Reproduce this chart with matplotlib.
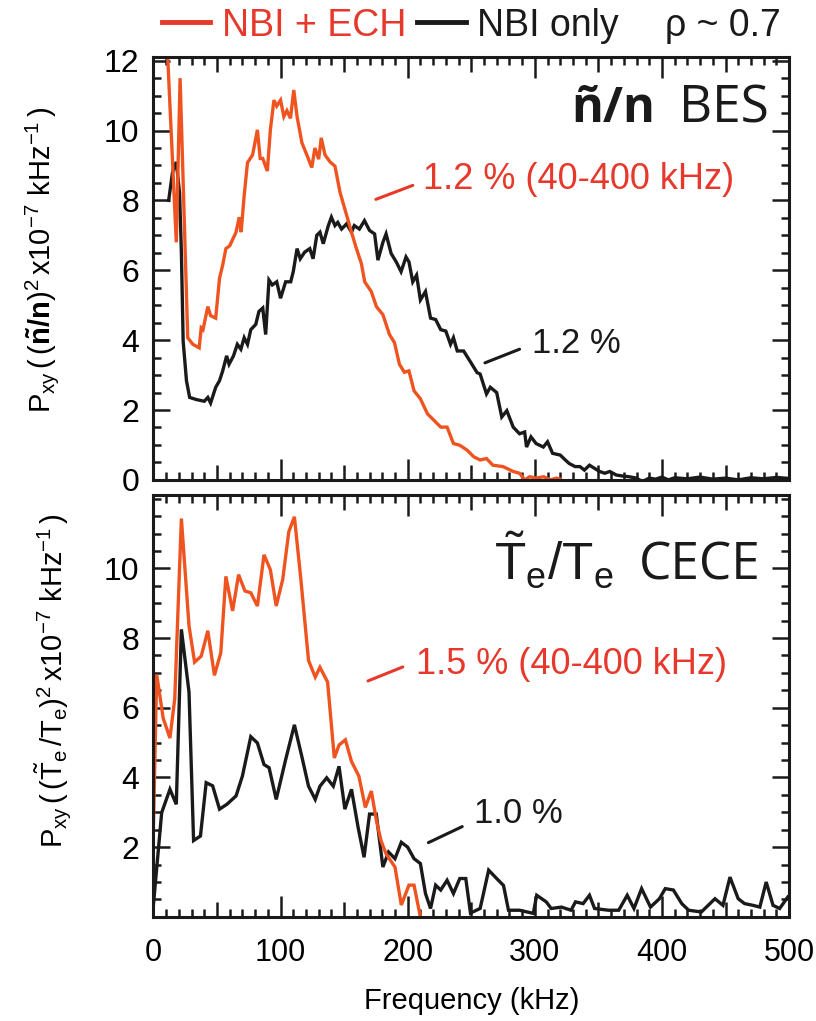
import numpy as np
import matplotlib
matplotlib.use("Agg")
import matplotlib.pyplot as plt
from matplotlib.lines import Line2D
from matplotlib.ticker import MultipleLocator

plt.rcParams['font.family'] = ['Liberation Sans', 'DejaVu Sans']
plt.rcParams['mathtext.fontset'] = 'custom'
plt.rcParams['mathtext.rm'] = 'Liberation Sans'
plt.rcParams['mathtext.it'] = 'Liberation Sans'
plt.rcParams['mathtext.bf'] = 'Liberation Sans:bold'

RED_LINE = '#ef5420'
RED_TEXT = '#e6382b'
BLACK = '#1a1a1a'

# BES (n~/n) spectra
bes_ech_f = [11, 18, 21, 27, 31, 36, 37.6, 39, 42.8, 45, 49, 52, 54.5, 57, 60, 65, 67.5, 69, 71.4, 74,
             78, 81.8, 84, 86, 89.6, 92, 94.8, 97, 100, 102.6, 105, 107.8, 110.4, 113, 116.8, 120.7,
             124.6, 127, 130, 132, 135, 139, 142.8, 146.8, 150.6, 155.8, 159.7, 163.6, 166.2, 171.4,
             175.4, 180.5, 185.7, 189.6, 193.5, 197.4, 201, 205, 210, 215.6, 220.8, 226, 231, 236,
             241, 246.8, 252, 257, 262, 267, 275, 283, 288, 292, 296, 301, 307, 312, 317, 320]
bes_ech_p = [12.3, 6.8, 11.5, 4.07, 3.88, 3.78, 4.35, 4.3, 4.96, 4.7, 4.63, 5.77, 6.15, 6.62, 6.7, 7.09,
             7.52, 7.09, 8.14, 9.08, 9.3, 10.02, 9.2, 9.2, 8.84, 10.02, 10.87, 10.7, 10.87, 10.4, 10.57,
             10.35, 11.16, 10.4, 9.65, 9.3, 8.94, 9.5, 9.18, 9.79, 9.3, 9.1, 8.98, 8.23, 7.75, 7.09,
             6.62, 6.19, 5.67, 5.39, 4.96, 4.73, 4.16, 3.93, 3.31, 3.08, 3.12, 2.55, 2.32, 1.89, 1.70,
             1.51, 1.51, 1.04, 0.99, 0.85, 0.66, 0.57, 0.61, 0.42, 0.38, 0.24, 0.19, 0.0, 0.09, 0.05,
             0.09, 0.0, 0.05, 0.02]

bes_nbi_f = [12, 15, 18, 20.6, 22, 23.4, 26, 28.5, 33.7, 40, 42.8, 45, 49, 52, 54.5, 57.6, 59.5, 63, 66,
             68.8, 71.4, 74, 76.6, 80.5, 83, 86, 88.3, 90.9, 93.5, 97, 100, 104, 108, 110, 113, 115.5,
             119, 123, 125.6, 128.5, 131, 133.6, 137.6, 140, 142.8, 145, 148, 152, 155.8, 158, 162,
             166, 170, 174, 176.6, 180.5, 183, 187, 191, 194.8, 198.7, 201, 204, 207, 210, 214, 218,
             222, 226, 230, 233.7, 236, 239, 244, 249, 254.6, 257, 262, 265, 270, 274, 278, 283, 288,
             292, 293.5, 297, 301, 306.7, 310, 314, 320, 324, 327, 331.7, 335.5, 339, 343, 347, 351,
             355, 359, 364, 369, 374, 380, 384.5, 390, 395, 400, 405, 410, 420, 430, 440, 450, 460,
             470, 480, 490, 500]
bes_nbi_p = [8.0, 8.8, 9.1, 8.2, 6.52, 3.97, 2.84, 2.36, 2.3, 2.25, 2.36, 2.2, 2.65, 2.84, 3.12, 3.55,
             3.31, 3.55, 3.88, 3.74, 4.07, 3.88, 4.3, 4.45, 4.82, 4.92, 4.16, 5.72, 5.58, 5.67, 5.2,
             5.67, 5.67, 5.96, 6.62, 6.33, 6.52, 6.62, 6.33, 7.0, 7.09, 6.76, 7.28, 7.52, 7.28, 7.37,
             7.18, 7.33, 7.09, 7.28, 7.18, 7.42, 7.14, 7.04, 6.29, 6.8, 7.04, 6.48, 6.24, 5.96, 6.38,
             6.24, 5.67, 5.86, 5.15, 5.39, 4.63, 4.59, 4.3, 4.26, 3.88, 4.07, 3.69, 3.69, 3.40, 3.07,
             3.03, 2.46, 2.65, 2.5, 1.80, 1.98, 1.51, 1.32, 1.37, 0.94, 1.23, 1.04, 0.94, 1.09, 0.76,
             0.71, 0.57, 0.47, 0.38, 0.38, 0.28, 0.42, 0.33, 0.24, 0.19, 0.24, 0.14, 0.11, 0.09, 0.05,
             -0.05, 0.05, 0.02, 0.08, 0.0, 0.06, 0.03, 0.08, 0.02, 0.05, 0.0, 0.06, 0.03, 0.07, 0.04]

# CECE (Te~/Te) spectra
cece_ech_f = [0, 2.6, 7.7, 13, 16.8, 22, 28, 32.4, 37.6, 42.8, 48, 53, 57, 62.3, 67, 72, 76.6, 81.8, 87,
              92, 96.6, 101.7, 106.5, 110.9, 116, 122, 127.3, 131, 137, 142.3, 146, 151, 155.8, 161.6,
              166.7, 171.4, 175.4, 179, 183, 190, 195, 201, 205, 210]
cece_ech_p = [2.57, 6.95, 5.70, 5.13, 6.26, 11.43, 8.35, 7.31, 7.48, 8.21, 6.93, 7.58, 9.77, 8.78, 9.82,
              9.35, 9.3, 8.92, 10.39, 9.96, 8.92, 9.68, 11.05, 11.48, 9.68, 7.36, 6.88, 7.16, 6.74,
              4.56, 4.93, 5.08, 4.46, 4.04, 3.14, 3.61, 2.77, 2.19, 1.81, 1.43, 0.34, 0.91, 0.91, 0.0]

cece_nbi_f = [0, 6.5, 13, 18, 22, 28, 31.6, 37, 41.5, 46.6, 52, 57.8, 65, 70, 76.6, 81.8, 87, 91, 96.6,
              104, 110.9, 117, 122, 127.3, 131, 136.3, 141.5, 146, 150.6, 155.8, 161, 165.7, 170,
              175.3, 180.5, 185, 190, 195, 200, 205, 210, 214, 218, 222, 226, 231, 236, 241, 245.7,
              249.4, 257, 263.7, 270, 275.4, 279.3, 288, 298.8, 301.5, 309, 312.9, 321, 328.5, 332,
              338, 343, 347, 358, 366, 372.7, 378, 384, 391, 398, 402.6, 409, 415.6, 421, 431, 441.7,
              448, 453.5, 460, 465, 471.7, 477, 482, 487.4, 492.6, 499]
cece_nbi_p = [0.34, 2.99, 3.66, 3.23, 8.25, 6.45, 2.19, 2.32, 3.85, 3.76, 3.09, 3.23, 3.47, 4.04, 5.17,
              4.99, 4.37, 4.28, 3.37, 4.51, 5.51, 4.56, 3.75, 3.37, 3.75, 3.99, 3.75, 4.32, 3.09, 3.66,
              2.57, 1.71, 2.95, 2.95, 1.43, 1.86, 1.67, 2.14, 2.0, 1.67, 1.53, 0.67, 0.24, 0.91, 0.77,
              1.05, 0.67, 1.1, 1.1, 0.11, 0.24, 1.34, 1.1, 0.9, 0.19, 0.19, 0.1, 0.62, 0.43, 0.24, 0.28,
              0.19, 0.43, 0.38, 0.62, 0.24, 0.19, 0.19, 0.62, 0.24, 0.81, 0.28, 0.52, 0.81, 0.77, 0.38,
              0.19, 0.14, 0.52, 0.33, 1.14, 0.52, 0.38, 0.33, 0.28, 1.0, 0.33, 0.24, 0.57]

bes_ticks = [0, 2, 4, 6, 8, 10, 12]
cece_ticks = [2, 4, 6, 8, 10]
freq_ticks = [0, 50, 100, 150, 200, 250, 300, 350, 400, 450, 500]


def style_axis(ax, yticks, show_xlabels):
    ax.set_xlim(0, 500)
    ax.set_ylim(0, 12.1)
    ax.set_xticks(freq_ticks)
    ax.set_xticklabels([str(t) if t % 100 == 0 else '' for t in freq_ticks])
    ax.xaxis.set_minor_locator(MultipleLocator(10))
    ax.set_yticks(yticks)
    ax.yaxis.set_minor_locator(MultipleLocator(0.5))
    ax.tick_params(which='both', direction='in', top=True, right=True, width=1.8, color=BLACK)
    ax.tick_params(axis='x', which='major', length=11, pad=15, labelsize=22)
    ax.tick_params(axis='y', which='major', length=12, pad=10, labelsize=23)
    ax.tick_params(which='minor', length=6)
    if not show_xlabels:
        ax.tick_params(axis='x', labelbottom=False)
    # hundreds get the longest marks
    for t, loc in zip(ax.xaxis.get_major_ticks(), freq_ticks):
        if loc % 100 == 0:
            t.tick1line.set_markersize(15)
            t.tick2line.set_markersize(15)
    for s in ax.spines.values():
        s.set_linewidth(2.2)
        s.set_color(BLACK)


fig = plt.figure(figsize=(8.16, 10.21), dpi=100)
ax1 = fig.add_axes([0.188, 0.530, 0.779, 0.414])
ax2 = fig.add_axes([0.188, 0.102, 0.779, 0.413])

ax1.plot(bes_nbi_f, bes_nbi_p, color=BLACK, lw=2.4, solid_joinstyle='miter')
ax1.plot(bes_ech_f, bes_ech_p, color=RED_LINE, lw=2.4, solid_joinstyle='miter')
ax2.plot(cece_nbi_f, cece_nbi_p, color=BLACK, lw=2.4, solid_joinstyle='miter')
ax2.plot(cece_ech_f, cece_ech_p, color=RED_LINE, lw=2.4, solid_joinstyle='miter')

style_axis(ax1, bes_ticks, False)
style_axis(ax2, cece_ticks, True)

# panel titles
ax1.text(0.968, 0.846, 'BES', transform=ax1.transAxes, ha='right', va='baseline',
         fontsize=37, family=['Open Sans', 'DejaVu Sans'], color=BLACK)
ax1.text(0.789, 0.846, 'ñ/n', transform=ax1.transAxes, ha='right', va='baseline',
         fontsize=35, fontweight='bold', family=['Open Sans', 'DejaVu Sans'], color=BLACK)
ax2.text(0.955, 0.80, 'CECE', transform=ax2.transAxes, ha='right', va='baseline',
         fontsize=37, family=['Open Sans', 'DejaVu Sans'], color=BLACK)
ax2.text(0.725, 0.80, r'$\tilde{\mathrm{T}}_{\mathrm{e}}/\mathrm{T}_{\mathrm{e}}$', transform=ax2.transAxes,
         ha='right', va='baseline', fontsize=37, color=BLACK)

# rms annotations
ax1.annotate('', xy=(175, 8.03), xytext=(204, 8.43),
             arrowprops=dict(arrowstyle='-', color=RED_TEXT, lw=2.2, shrinkA=0, shrinkB=0))
ax1.text(211.7, 8.34, '1.2 % (40-400 kHz)', color=RED_TEXT, fontsize=26, va='baseline')
ax1.annotate('', xy=(260.8, 3.35), xytext=(288, 3.74),
             arrowprops=dict(arrowstyle='-', color=BLACK, lw=2.2, shrinkA=0, shrinkB=0))
ax1.text(297.4, 3.63, '1.2 %', color=BLACK, fontsize=25, va='baseline')

ax2.annotate('', xy=(168.8, 6.77), xytext=(196.1, 7.17),
             arrowprops=dict(arrowstyle='-', color=RED_TEXT, lw=2.2, shrinkA=0, shrinkB=0))
ax2.text(206.2, 6.97, '1.5 % (40-400 kHz)', color=RED_TEXT, fontsize=26, va='baseline')
ax2.annotate('', xy=(216.3, 2.13), xytext=(242.9, 2.59),
             arrowprops=dict(arrowstyle='-', color=BLACK, lw=2.2, shrinkA=0, shrinkB=0))
ax2.text(252.2, 2.70, '1.0 %', color=BLACK, fontsize=25, va='baseline')

ax1.set_ylabel(r'$\mathrm{P_{xy}}\,(\,(\mathbf{\tilde{n}/n})^{2}\,\mathrm{x10^{-7}\ kHz^{-1}}\,)$',
               fontsize=21)
ax2.set_ylabel(r'$\mathrm{P_{xy}}\,(\,(\tilde{\mathrm{T}}_{\mathrm{e}}\,/\mathrm{T}_{\mathrm{e}})^{2}'
               r'\,\mathrm{x10^{-7}\ kHz^{-1}}\,)$', fontsize=21)
ax1.yaxis.set_label_coords(-0.145, 0.52)
ax2.yaxis.set_label_coords(-0.125, 0.56)
ax2.set_xlabel('Frequency (kHz)', fontsize=21, labelpad=14)

handles = [Line2D([], [], color=RED_TEXT, lw=3.5), Line2D([], [], color=BLACK, lw=3.5)]
leg = fig.legend(handles, ['NBI + ECH', 'NBI only'], loc='center left', bbox_to_anchor=(0.198, 0.975),
                 ncol=2, frameon=False, fontsize=27, handlelength=1.3, handletextpad=0.3,
                 columnspacing=0.3, borderpad=0, borderaxespad=0, labelcolor=[RED_TEXT, BLACK])
fig.text(0.815, 0.975, 'ρ ~ 0.7', fontsize=27, ha='left', va='center', color=BLACK)

fig.savefig('out.png', dpi=100)
